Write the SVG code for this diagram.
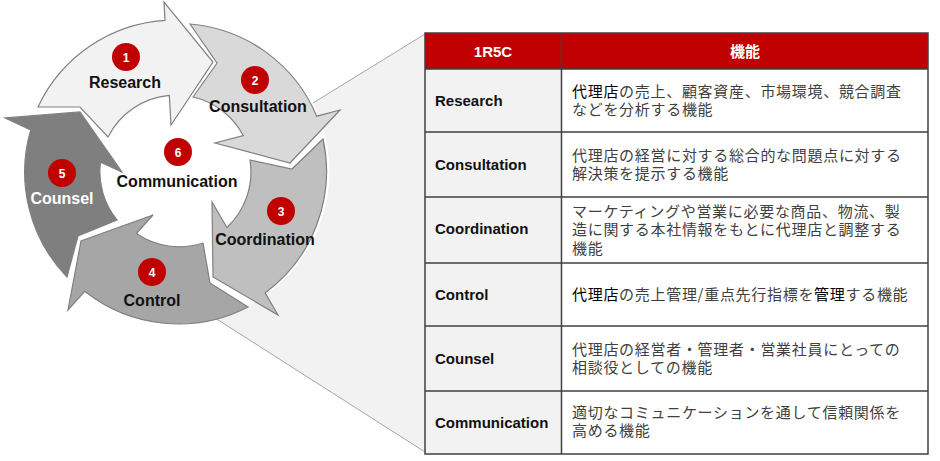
<svg xmlns="http://www.w3.org/2000/svg" width="940" height="461" viewBox="0 0 940 461">
<defs>
<style>
.arrow{stroke:#808080;stroke-width:1.2;stroke-linejoin:miter}
.num{fill:#c00000}
.numt{font-family:'Liberation Sans',Arial,sans-serif;font-weight:bold;font-size:12px;fill:#fff;text-anchor:middle}
.lbl{font-family:'Liberation Sans',Arial,sans-serif;font-weight:bold;font-size:16px;fill:#111;text-anchor:middle}
.cell-l{fill:#f2f2f2}
.cell-r{fill:#fff}
.grid{stroke:#404040;stroke-width:1.5;fill:none}
.th{font-family:'Liberation Sans','Noto Sans CJK JP',Arial,sans-serif;font-weight:bold;font-size:15px;fill:#fff;text-anchor:middle}
.tl{font-family:'Liberation Sans',Arial,sans-serif;font-weight:bold;font-size:15px;fill:#111}
.tr{font-family:'Noto Sans CJK JP',sans-serif;font-size:15px;letter-spacing:0.7px;fill:#404040}
.em{fill:#000}
</style>
</defs>
<rect width="940" height="461" fill="#fff"/>

<g id="callout">
<path d="M313,103 L425,34 L425,452 L215,318 A151,151 0 0 0 313,103 Z" fill="#f2f2f2"/>
<line x1="313" y1="103" x2="425" y2="34" stroke="#a6a6a6" stroke-width="1"/>
<line x1="215" y1="318" x2="425" y2="452" stroke="#a6a6a6" stroke-width="1"/>
</g>

<g id="cycle">
<g id="node-research">
<path class="arrow" fill="#f2f2f2" d="M38,107 A151,151 0 0 1 165,20.4 L164,2 L213,62 L171,125 L169.3,95.3 A76,76 0 0 0 108,137 L80,107 Z"/>
<circle class="num" cx="126" cy="57" r="14"/><text class="numt" x="126" y="61.5">1</text>
<text class="lbl" x="125" y="88">Research</text>
</g>
<g id="node-consultation">
<path class="arrow" fill="#d9d9d9" d="M190,24 A151,151 0 0 1 316.7,116.2 L340,110 L290,163 L215,143 L243.2,135.5 A76,76 0 0 0 193,97 L217,63 Z"/>
<circle class="num" cx="255" cy="80" r="14"/><text class="numt" x="255" y="84.5">2</text>
<text class="lbl" x="258" y="111.5">Consultation</text>
</g>
<g id="node-coordination">
<path class="arrow" fill="#bfbfbf" d="M323,139 A151,151 0 0 1 265.1,292.9 L278,315 L213,277 L212,202 L226.9,227.5 A76,76 0 0 0 250,160 L292,169 Z"/>
<circle class="num" cx="281" cy="211" r="14"/><text class="numt" x="281" y="215.5">3</text>
<text class="lbl" x="265" y="245">Coordination</text>
</g>
<g id="node-control">
<path class="arrow" fill="#a6a6a6" d="M248,307 A151,151 0 0 1 84.7,291.3 L68,310 L81,241 L153,215 L136.4,233.5 A76,76 0 0 0 203,243 L210,283 Z"/>
<circle class="num" cx="152" cy="272" r="14"/><text class="numt" x="152" y="276.5">4</text>
<text class="lbl" x="152" y="306">Control</text>
</g>
<g id="node-counsel">
<path class="arrow" fill="#7f7f7f" d="M67,277 A151,151 0 0 1 30.7,129.9 L5,118 L80,112 L122,172 L100.5,162.1 A76,76 0 0 0 117,220 L78,236 Z"/>
<circle class="num" cx="62" cy="173" r="14"/><text class="numt" x="62" y="177.5">5</text>
<text class="lbl" x="62" y="204" style="fill:#fff">Counsel</text>
</g>
<g id="node-communication">
<circle class="num" cx="178" cy="152" r="14"/><text class="numt" x="178" y="156.5">6</text>
<text class="lbl" x="177" y="187">Communication</text>
</g>
</g>

<g id="connectors"></g>

<g id="table">
<rect x="425" y="33" width="503" height="36" fill="#c00000"/>
<rect class="cell-l" x="425" y="69" width="136.5" height="385"/>
<rect class="cell-r" x="561.5" y="69" width="366.5" height="385"/>
<path class="grid" d="M425,33 H928 V454 H425 Z M561.5,33 V454 M425,69 H928 M425,132 H928 M425,197 H928 M425,263 H928 M425,326 H928 M425,391 H928"/>
<text class="th" x="493" y="57">1R5C</text>
<text class="th" x="745" y="57" style="font-family:'Noto Sans CJK JP',sans-serif">機能</text>

<g id="row-research">
<text class="tl" x="435" y="105.5">Research</text>
<text class="tr" x="572" y="97"><tspan class="em">代理店</tspan>の売上、顧客資産、市場環境、競合調査</text>
<text class="tr" x="572" y="115">などを分析する機能</text>
</g>
<g id="row-consultation">
<text class="tl" x="435" y="169.5">Consultation</text>
<text class="tr" x="572" y="160.5">代理店の経営に対する総合的な問題点に対する</text>
<text class="tr" x="572" y="178.5">解決策を提示する機能</text>
</g>
<g id="row-coordination">
<text class="tl" x="435" y="234">Coordination</text>
<text class="tr" x="572" y="217">マーケティングや営業に必要な商品、物流、製</text>
<text class="tr" x="572" y="235">造に関する本社情報をもとに代理店と調整する</text>
<text class="tr" x="572" y="253.5">機能</text>
</g>
<g id="row-control">
<text class="tl" x="435" y="300">Control</text>
<text class="tr" x="572" y="300"><tspan class="em">代理店</tspan>の売上管理/重点先行指標を<tspan class="em">管理</tspan>する機能</text>
</g>
<g id="row-counsel">
<text class="tl" x="435" y="363.5">Counsel</text>
<text class="tr" x="572" y="354.5">代理店の経営者・管理者・営業社員にとっての</text>
<text class="tr" x="572" y="372.5">相談役としての機能</text>
</g>
<g id="row-communication">
<text class="tl" x="435" y="427.5">Communication</text>
<text class="tr" x="572" y="418">適切なコミュニケーションを通して信頼関係を</text>
<text class="tr" x="572" y="436">高める機能</text>
</g>
</g>
</svg>
